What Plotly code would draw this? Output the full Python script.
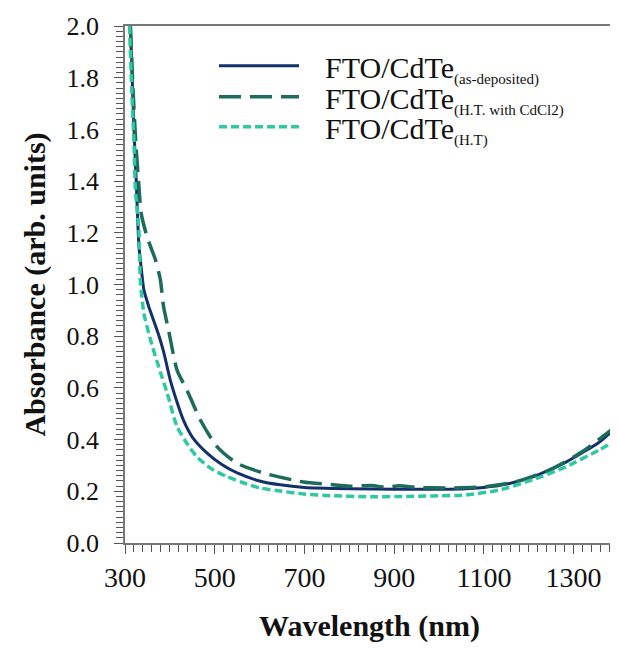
import plotly.graph_objects as go

# As-deposited (solid)
wl_asdep = [312, 316, 320, 325, 331, 337, 342, 352, 364, 376, 386, 401, 415, 430, 450,
            483, 515, 550, 600, 646, 700, 800, 900, 1000, 1060, 1100, 1134, 1170, 1208,
            1245, 1283, 1320, 1357, 1390]
abs_asdep = [2.0, 1.80, 1.60, 1.40, 1.15, 1.05, 0.98, 0.92, 0.86, 0.80, 0.74, 0.63, 0.55,
             0.476, 0.41, 0.348, 0.305, 0.271, 0.24, 0.225, 0.215, 0.21, 0.208, 0.208,
             0.21, 0.215, 0.222, 0.236, 0.255, 0.282, 0.313, 0.35, 0.39, 0.44]

# H.T. with CdCl2 (long dash)
wl_cdcl2 = [312, 318, 324, 331, 336, 349, 368, 379, 386, 397, 416, 438, 468, 505, 549, 608,
            697, 760, 801, 850, 880, 912, 950, 1023, 1097, 1172, 1246, 1319, 1390]
abs_cdcl2 = [2.0, 1.75, 1.55, 1.38, 1.276, 1.185, 1.095, 1.017, 0.914, 0.824, 0.669, 0.592,
             0.476, 0.373, 0.309, 0.271, 0.236, 0.226, 0.22, 0.222, 0.216, 0.221, 0.215,
             0.213, 0.217, 0.237, 0.282, 0.353, 0.445]

# H.T. (short dash)
wl_ht = [310, 315, 320, 323, 331, 334, 342, 357, 379, 394, 416, 440, 460, 490, 527, 560,
         601, 650, 697, 760, 839, 920, 986, 1060, 1134, 1208, 1283, 1357, 1390]
abs_ht = [2.0, 1.75, 1.55, 1.37, 1.21, 1.02, 0.889, 0.785, 0.66, 0.58, 0.45, 0.38, 0.334,
          0.29, 0.257, 0.235, 0.213, 0.20, 0.19, 0.183, 0.179, 0.18, 0.182, 0.186, 0.205,
          0.244, 0.295, 0.36, 0.392]

x_ticks = [300, 500, 700, 900, 1100, 1300]
y_ticks = [0.0, 0.2, 0.4, 0.6, 0.8, 1.0, 1.2, 1.4, 1.6, 1.8, 2.0]

series_main = "FTO/CdTe"
series_subs = ["(as-deposited)", "(H.T. with CdCl2)", "(H.T)"]

serif = "Liberation Serif, Times New Roman, serif"
gap = "\u2002\u2009"


def label(sub):
    return gap + series_main + '<sub><span style="font-size:15px">' + sub + "</span></sub>"


fig = go.Figure()
fig.add_trace(go.Scatter(x=wl_asdep, y=abs_asdep, mode="lines", legend="legend",
                         name=label(series_subs[0]),
                         line=dict(color="#14306a", width=3, shape="spline", smoothing=0.6)))
fig.add_trace(go.Scatter(x=wl_cdcl2, y=abs_cdcl2, mode="lines", legend="legend2",
                         name=label(series_subs[1]),
                         line=dict(color="#1d6b5b", width=3.5, dash="22px,9px",
                                   shape="spline", smoothing=0.6)))
fig.add_trace(go.Scatter(x=wl_ht, y=abs_ht, mode="lines", legend="legend3",
                         name=label(series_subs[2]),
                         line=dict(color="#2ec9a0", width=3.5, dash="8px,4px",
                                   shape="spline", smoothing=0.6)))

leg_common = dict(x=0.182, xanchor="left", yanchor="middle", bgcolor="rgba(0,0,0,0)",
                  font=dict(size=30, family=serif), itemwidth=80)

fig.update_layout(
    width=610, height=642,
    margin=dict(l=117, r=4, t=18, b=107),
    paper_bgcolor="white", plot_bgcolor="white",
    font=dict(family=serif, color="#111111"),
    showlegend=True,
    legend=dict(y=0.923, **leg_common),
    legend2=dict(y=0.863, **leg_common),
    legend3=dict(y=0.805, **leg_common),
    xaxis=dict(range=[300, 1390], tickvals=x_ticks, ticktext=[str(v) for v in x_ticks],
               ticks="outside", ticklen=9, tickcolor="#555", tickwidth=1,
               minor=dict(dtick=20, ticks="outside", ticklen=7, tickcolor="#555"),
               showline=True, linecolor="#777", linewidth=1.5, mirror=True,
               showgrid=False, zeroline=False, automargin=False,
               tickfont=dict(size=28, family=serif),
               title=dict(text="<b>Wavelength (nm)</b>", font=dict(size=30, family=serif),
                          standoff=23)),
    yaxis=dict(range=[0, 2.0], tickvals=y_ticks, ticktext=[f"{v:.1f}" for v in y_ticks],
               ticks="outside", ticklen=9, tickcolor="#555", tickwidth=1,
               minor=dict(dtick=0.02, ticks="outside", ticklen=7, tickcolor="#555"),
               showline=True, linecolor="#777", linewidth=1.5, mirror=False,
               showgrid=False, zeroline=False, ticklabelstandoff=10, automargin=False,
               tickfont=dict(size=26, family=serif),
               title=dict(text="<b>Absorbance (arb. units)</b>", font=dict(size=30, family=serif),
                          standoff=12)),
    shapes=[dict(type="line", xref="paper", yref="paper", x0=1, x1=1, y0=0, y1=1,
                 line=dict(color="#dddddd", width=1))],
)

fig.write_html("out.html")
